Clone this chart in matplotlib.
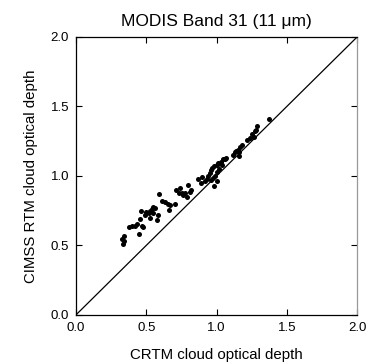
import numpy as np
import matplotlib
matplotlib.use('Agg')
import matplotlib.pyplot as plt

plt.rcParams['font.family'] = ['Liberation Sans', 'DejaVu Sans']

# CRTM cloud optical depth (x) vs CIMSS RTM cloud optical depth (y)
crtm = [0.325, 0.335, 0.345, 0.345,
        0.38, 0.40, 0.42, 0.435, 0.45, 0.455, 0.47, 0.48,
        0.465, 0.49, 0.50, 0.52, 0.53, 0.54, 0.55, 0.56, 0.545, 0.53,
        0.575, 0.585, 0.59, 0.61, 0.635, 0.655, 0.67, 0.66, 0.705,
        0.715, 0.73, 0.74, 0.752, 0.765, 0.775, 0.79, 0.80, 0.81, 0.82,
        0.87, 0.895, 0.915, 0.93, 0.89,
        0.94, 0.95, 0.96, 0.97, 0.985, 1.0, 1.01, 0.975, 0.99, 1.005,
        1.02, 1.03, 1.045, 1.06, 1.07, 1.04, 0.96, 1.0, 0.98,
        1.12, 1.13, 1.14, 1.15, 1.16, 1.17, 1.18, 1.16,
        1.215, 1.24, 1.25, 1.265, 1.27, 1.28, 1.29, 1.375]
cimss = [0.545, 0.51, 0.565, 0.53,
         0.635, 0.64, 0.64, 0.655, 0.58, 0.69, 0.64, 0.635,
         0.75, 0.72, 0.74, 0.73, 0.75, 0.76, 0.78, 0.77, 0.735, 0.70,
         0.68, 0.72, 0.87, 0.82, 0.81, 0.80, 0.79, 0.755, 0.80,
         0.90, 0.875, 0.91, 0.875, 0.86, 0.88, 0.85, 0.935, 0.887, 0.90,
         0.98, 0.995, 0.96, 0.975, 0.95,
         1.0, 1.02, 1.04, 1.06, 1.07, 1.08, 1.09, 0.985, 1.0, 1.03,
         1.05, 1.10, 1.12, 1.125, 1.13, 1.08, 0.97, 0.96, 0.93,
         1.15, 1.17, 1.18, 1.19, 1.17, 1.21, 1.22, 1.14,
         1.26, 1.27, 1.30, 1.28, 1.32, 1.33, 1.36, 1.41]

ticks = [0.0, 0.5, 1.0, 1.5, 2.0]

fig = plt.figure(figsize=(3.74, 3.62), dpi=100)
ax = fig.add_axes([0.203, 0.130, 0.752, 0.768])

ax.plot([0, 2], [0, 2], color='black', linewidth=0.9)
ax.scatter(crtm, cimss, s=13, color='black', linewidths=0, zorder=3)

ax.set_xlim(0, 2)
ax.set_ylim(0, 2)
ax.set_xticks(ticks)
ax.set_yticks(ticks)
ax.set_xticklabels(['%.1f' % t for t in ticks])
ax.set_yticklabels(['%.1f' % t for t in ticks])
ax.tick_params(direction='in', length=4, width=0.8, labelsize=9.5,
               top=True, right=True)
ax.tick_params(axis='x', pad=5)
ax.tick_params(axis='y', pad=5)
ax.spines['right'].set_color('#999999')
for s in ax.spines.values():
    s.set_linewidth(0.9)

ax.set_title('MODIS Band 31 (11 \u03bcm)', fontsize=12.5, pad=8)
ax.set_xlabel('CRTM cloud optical depth', fontsize=10.8, labelpad=10)
ax.set_ylabel('CIMSS RTM cloud optical depth', fontsize=10.8, labelpad=9)

fig.savefig('out.png', dpi=100)
